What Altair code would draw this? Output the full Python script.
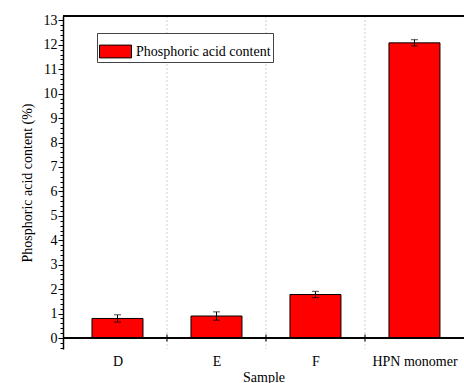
import altair as alt
import pandas as pd

# ---- data ----
samples = ["D", "E", "F", "HPN monomer"]
positions = [0.5, 1.5, 2.5, 3.5]
values = [0.80, 0.90, 1.78, 12.08]
errors = [0.15, 0.17, 0.13, 0.13]
series_name = "Phosphoric acid content"
boundaries = [1, 2, 3]
y_ticks = [round(i * 0.2, 1) for i in range(-2, 66)]

df = pd.DataFrame({
    "sample": samples,
    "pos": positions,
    "value": values,
    "err": errors,
    "series": [series_name] * len(samples),
})
df["lo"] = df["value"] - df["err"]
df["hi"] = df["value"] + df["err"]
bdf = pd.DataFrame({"b": boundaries})

FONT = "'Liberation Serif', 'Times New Roman', Times, serif"
FS = 14
W, H = 401, 333

xscale = alt.Scale(domain=[0, 3.95], nice=False, zero=False)
yscale = alt.Scale(domain=[-0.45, 13.18], nice=False, zero=False)

label_list = "[" + ",".join("'" + s + "'" for s in samples) + "]"
xaxis = alt.Axis(
    values=positions,
    labelExpr=label_list + "[floor(datum.value)]",
    title="Sample",
    domain=False, ticks=False, grid=False,
    labelPadding=5, labelFontSize=FS, labelFont=FONT, labelColor="black",
    titleFont=FONT, titleFontSize=FS, titleFontWeight="normal", titleColor="black",
    titlePadding=2, labelFlush=False, labelOverlap=False,
)
yaxis = alt.Axis(
    values=y_ticks,
    labelExpr="abs(datum.value - round(datum.value)) < 0.001 ? format(datum.value, 'd') : ''",
    tickSize={"condition": {"test": "abs(datum.value - round(datum.value)) < 0.001", "value": 5}, "value": 3},
    title="Phosphoric acid content (%)",
    grid=False,
    domainColor="black", domainWidth=1.5, tickColor="black", tickWidth=1,
    labelPadding=1, labelFontSize=FS, labelFont=FONT, labelColor="black",
    titleFont=FONT, titleFontSize=FS, titleFontWeight="normal", titleColor="black",
    titlePadding=9, labelFlush=False, labelOverlap=False, labelBound=False,
)

X = lambda f: alt.X(f, scale=xscale, axis=xaxis)
Y = lambda f: alt.Y(f, scale=yscale, axis=yaxis)

grid = alt.Chart(bdf).mark_rule(color="#cfcfcf", strokeDash=[2, 2], strokeWidth=1).encode(
    x=X("b:Q"))

top_line = alt.Chart(bdf).mark_rule(color="black", strokeWidth=1.5).encode(
    y=alt.value(0))

zero_line = alt.Chart(bdf).mark_rule(color="black", strokeWidth=1.5).encode(
    y=alt.Y(datum=0, scale=yscale, axis=yaxis))

btick = alt.Chart(bdf).mark_tick(orient="vertical", size=7, thickness=1.5, color="black").encode(
    x=X("b:Q"), y=alt.Y(datum=0, scale=yscale, axis=yaxis))

bars = alt.Chart(df).mark_bar(size=51, stroke="black", strokeWidth=1).encode(
    x=X("pos:Q"),
    y=Y("value:Q"),
    color=alt.Color("series:N", scale=alt.Scale(range=["#ff0000"]),
                    legend=alt.Legend(title=None)),
)

err_rule = alt.Chart(df).mark_rule(color="black", strokeWidth=1).encode(
    x=X("pos:Q"), y=Y("lo:Q"), y2="hi:Q")
cap_lo = alt.Chart(df).mark_tick(orient="horizontal", size=7, thickness=1, color="black").encode(
    x=X("pos:Q"), y=Y("lo:Q"))
cap_hi = alt.Chart(df).mark_tick(orient="horizontal", size=7, thickness=1, color="black").encode(
    x=X("pos:Q"), y=Y("hi:Q"))

chart = alt.layer(grid, bars, err_rule, cap_lo, cap_hi, zero_line, btick, top_line).properties(
    width=W, height=H,
    padding={"left": 63, "top": 16, "right": 0, "bottom": 34},
    autosize=alt.AutoSizeParams(type="none"),
    background="white",
).configure(font=FONT).configure_view(stroke=None).configure_legend(
    orient="none", legendX=34, legendY=17,
    strokeColor="#444", fillColor="white", padding=2,
    symbolType="M-1,-0.4H1V0.4H-1Z", symbolSize=1024,
    symbolStrokeColor="black", symbolStrokeWidth=1,
    labelFont=FONT, labelFontSize=FS, labelColor="black", labelOffset=4,
    labelLimit=400, cornerRadius=0,
)

chart.save("out.html", embed_options={"renderer": "svg", "actions": False})
